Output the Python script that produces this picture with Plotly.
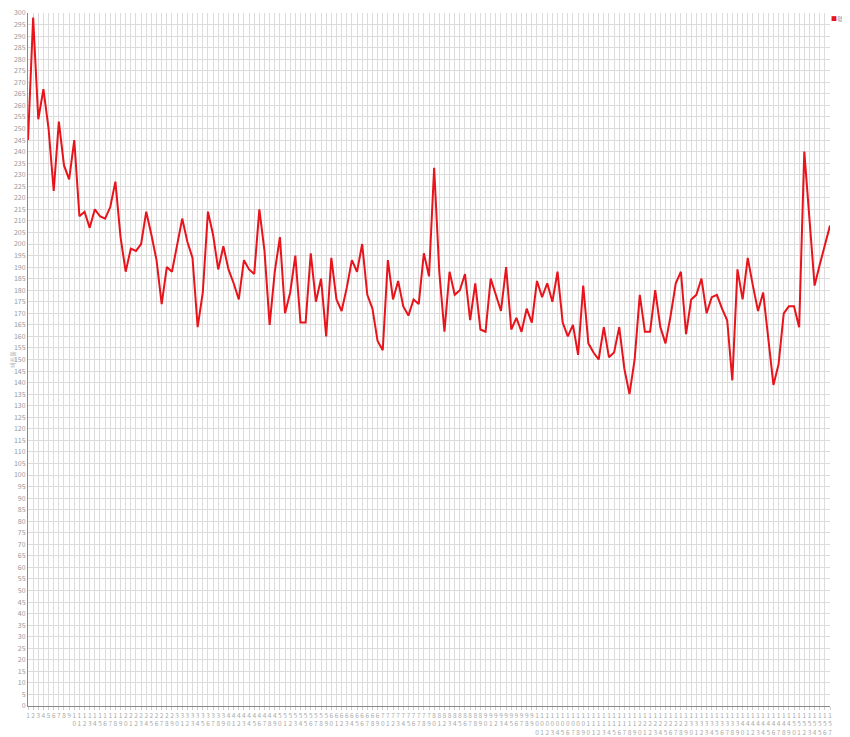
import plotly.graph_objects as go

series_name = "평균"
y_title = "비트율"

categories = list(range(1, 158))
values = [
    245, 298, 254, 267, 250, 223, 253, 234, 228, 245,
    212, 214, 207, 215, 212, 211, 216, 227, 203, 188,
    198, 197, 200, 214, 204, 193, 174, 190, 188, 200,
    211, 201, 194, 164, 179, 214, 204, 189, 199, 189,
    183, 176, 193, 189, 187, 215, 197, 165, 188, 203,
    170, 179, 195, 166, 166, 196, 175, 185, 160, 194,
    176, 171, 181, 193, 188, 200, 178, 172, 158, 154,
    193, 176, 184, 173, 169, 176, 174, 196, 186, 233,
    188, 162, 188, 178, 180, 187, 167, 183, 163, 162,
    185, 178, 171, 190, 163, 168, 162, 172, 166, 184,
    177, 183, 175, 188, 166, 160, 165, 152, 182, 157,
    153, 150, 164, 151, 153, 164, 146, 135, 150, 178,
    162, 162, 180, 164, 157, 169, 183, 188, 161, 176,
    178, 185, 170, 177, 178, 172, 167, 141, 189, 176,
    194, 182, 171, 179, 158, 139, 148, 170, 173, 173,
    164, 240, 211, 182, 191, 199, 208,
]
tick_labels = ["<br>".join(str(c)) for c in categories]

LINE_COLOR = "#e8131b"

fig = go.Figure()
fig.add_trace(go.Scatter(
    x=categories, y=values, mode="lines", name=series_name,
    line=dict(color=LINE_COLOR, width=2),
    showlegend=False, hoverinfo="x+y",
))

fig.update_layout(
    width=842, height=729,
    margin=dict(l=20, r=20, t=5, b=31, autoexpand=False),
    paper_bgcolor="white", plot_bgcolor="white",
    font=dict(family="Noto Sans CJK KR, Noto Sans, sans-serif", size=7, color="#999999"),
    showlegend=False,
    annotations=[dict(
        xref="paper", yref="paper", x=1.0245, y=1.0, xanchor="right", yanchor="top",
        text=f"<span style='color:{LINE_COLOR}'>■</span>{series_name}",
        showarrow=False, font=dict(size=6, color="#999999"),
        borderpad=0,
    )],
)
fig.update_xaxes(
    range=[1, 157], tickmode="array", tickvals=categories, ticktext=tick_labels,
    showgrid=True, gridcolor="#dcdcdc", gridwidth=1,
    showline=True, linecolor="#888888", linewidth=1,
    ticks="outside", ticklen=3, tickcolor="#cccccc",
    tickfont=dict(size=6.5, color="#aaaaaa"), tickangle=0,
    ticklabeloverflow="allow",
    zeroline=False, fixedrange=True,
)
fig.update_yaxes(
    range=[0, 300], dtick=5, tick0=0,
    showgrid=True, gridcolor="#dcdcdc", gridwidth=1,
    showline=True, linecolor="#888888", linewidth=1,
    ticks="", tickfont=dict(size=7, color="#999999"),
    ticklabeloverflow="allow",
    title=dict(text=y_title, font=dict(size=6, color="#aaaaaa"), standoff=2),
    zeroline=False, fixedrange=True,
)

fig.write_html("out.html")
